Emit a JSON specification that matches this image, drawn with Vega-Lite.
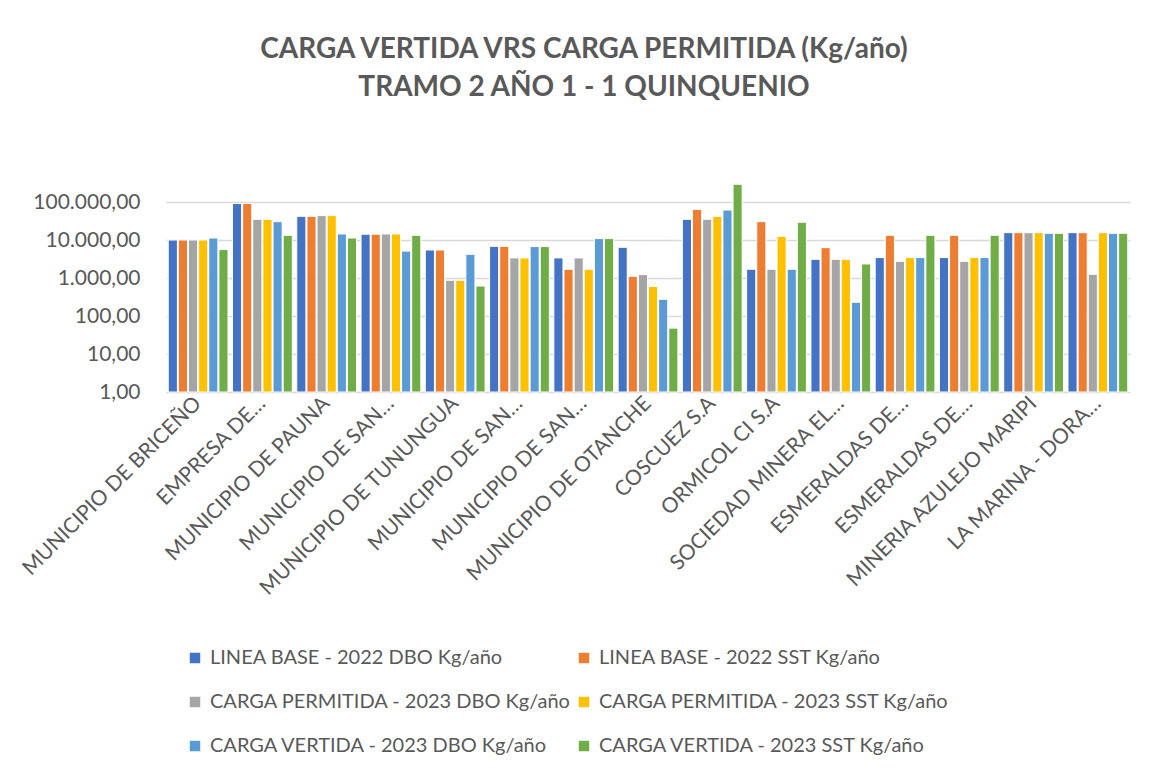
{
  "$schema": "https://vega.github.io/schema/vega-lite/v6.json",
  "autosize": "none",
  "width": 964,
  "height": 209,
  "padding": {"left": 166, "top": 183, "right": 24, "bottom": 384},
  "background": "white",
  "config": {
    "font": "Lato",
    "view": {"stroke": null}
  },
  "title": {
    "text": ["CARGA VERTIDA VRS CARGA PERMITIDA (Kg/año)", "TRAMO 2 AÑO 1 - 1 QUINQUENIO"],
    "anchor": "middle",
    "dx": -64,
    "offset": 81,
    "fontSize": 28,
    "fontWeight": "bold",
    "color": "#595959",
    "lineHeight": 38,
    "font": "Lato"
  },
  "data": {
    "values": [
      {"c": "MUNICIPIO DE BRICEÑO", "LINEA BASE - 2022 DBO Kg/año": 10000, "LINEA BASE - 2022 SST Kg/año": 10000, "CARGA PERMITIDA - 2023 DBO Kg/año": 10000, "CARGA PERMITIDA - 2023 SST Kg/año": 10000, "CARGA VERTIDA - 2023 DBO Kg/año": 11300, "CARGA VERTIDA - 2023 SST Kg/año": 5600},
      {"c": "EMPRESA DE…", "LINEA BASE - 2022 DBO Kg/año": 91000, "LINEA BASE - 2022 SST Kg/año": 91000, "CARGA PERMITIDA - 2023 DBO Kg/año": 35000, "CARGA PERMITIDA - 2023 SST Kg/año": 35000, "CARGA VERTIDA - 2023 DBO Kg/año": 30400, "CARGA VERTIDA - 2023 SST Kg/año": 13300},
      {"c": "MUNICIPIO DE PAUNA", "LINEA BASE - 2022 DBO Kg/año": 42000, "LINEA BASE - 2022 SST Kg/año": 42000, "CARGA PERMITIDA - 2023 DBO Kg/año": 43800, "CARGA PERMITIDA - 2023 SST Kg/año": 43800, "CARGA VERTIDA - 2023 DBO Kg/año": 14400, "CARGA VERTIDA - 2023 SST Kg/año": 11300},
      {"c": "MUNICIPIO DE SAN…", "LINEA BASE - 2022 DBO Kg/año": 14200, "LINEA BASE - 2022 SST Kg/año": 14200, "CARGA PERMITIDA - 2023 DBO Kg/año": 14400, "CARGA PERMITIDA - 2023 SST Kg/año": 14400, "CARGA VERTIDA - 2023 DBO Kg/año": 5100, "CARGA VERTIDA - 2023 SST Kg/año": 13300},
      {"c": "MUNICIPIO DE TUNUNGUA", "LINEA BASE - 2022 DBO Kg/año": 5460, "LINEA BASE - 2022 SST Kg/año": 5460, "CARGA PERMITIDA - 2023 DBO Kg/año": 870, "CARGA PERMITIDA - 2023 SST Kg/año": 870, "CARGA VERTIDA - 2023 DBO Kg/año": 4200, "CARGA VERTIDA - 2023 SST Kg/año": 615},
      {"c": "MUNICIPIO DE SAN…\u200b", "LINEA BASE - 2022 DBO Kg/año": 6800, "LINEA BASE - 2022 SST Kg/año": 6800, "CARGA PERMITIDA - 2023 DBO Kg/año": 3380, "CARGA PERMITIDA - 2023 SST Kg/año": 3380, "CARGA VERTIDA - 2023 DBO Kg/año": 6700, "CARGA VERTIDA - 2023 SST Kg/año": 6700},
      {"c": "MUNICIPIO DE SAN…\u200b\u200b", "LINEA BASE - 2022 DBO Kg/año": 3380, "LINEA BASE - 2022 SST Kg/año": 1700, "CARGA PERMITIDA - 2023 DBO Kg/año": 3380, "CARGA PERMITIDA - 2023 SST Kg/año": 1700, "CARGA VERTIDA - 2023 DBO Kg/año": 10900, "CARGA VERTIDA - 2023 SST Kg/año": 10900},
      {"c": "MUNICIPIO DE OTANCHE", "LINEA BASE - 2022 DBO Kg/año": 6430, "LINEA BASE - 2022 SST Kg/año": 1110, "CARGA PERMITIDA - 2023 DBO Kg/año": 1230, "CARGA PERMITIDA - 2023 SST Kg/año": 600, "CARGA VERTIDA - 2023 DBO Kg/año": 275, "CARGA VERTIDA - 2023 SST Kg/año": 48},
      {"c": "COSCUEZ S.A", "LINEA BASE - 2022 DBO Kg/año": 35000, "LINEA BASE - 2022 SST Kg/año": 64000, "CARGA PERMITIDA - 2023 DBO Kg/año": 35000, "CARGA PERMITIDA - 2023 SST Kg/año": 42000, "CARGA VERTIDA - 2023 DBO Kg/año": 61500, "CARGA VERTIDA - 2023 SST Kg/año": 293000},
      {"c": "ORMICOL CI S.A", "LINEA BASE - 2022 DBO Kg/año": 1700, "LINEA BASE - 2022 SST Kg/año": 30400, "CARGA PERMITIDA - 2023 DBO Kg/año": 1700, "CARGA PERMITIDA - 2023 SST Kg/año": 12500, "CARGA VERTIDA - 2023 DBO Kg/año": 1700, "CARGA VERTIDA - 2023 SST Kg/año": 29300},
      {"c": "SOCIEDAD MINERA EL…", "LINEA BASE - 2022 DBO Kg/año": 3100, "LINEA BASE - 2022 SST Kg/año": 6300, "CARGA PERMITIDA - 2023 DBO Kg/año": 3100, "CARGA PERMITIDA - 2023 SST Kg/año": 3100, "CARGA VERTIDA - 2023 DBO Kg/año": 230, "CARGA VERTIDA - 2023 SST Kg/año": 2340},
      {"c": "ESMERALDAS DE…", "LINEA BASE - 2022 DBO Kg/año": 3450, "LINEA BASE - 2022 SST Kg/año": 13300, "CARGA PERMITIDA - 2023 DBO Kg/año": 2750, "CARGA PERMITIDA - 2023 SST Kg/año": 3450, "CARGA VERTIDA - 2023 DBO Kg/año": 3450, "CARGA VERTIDA - 2023 SST Kg/año": 13300},
      {"c": "ESMERALDAS DE…\u200b", "LINEA BASE - 2022 DBO Kg/año": 3450, "LINEA BASE - 2022 SST Kg/año": 13300, "CARGA PERMITIDA - 2023 DBO Kg/año": 2750, "CARGA PERMITIDA - 2023 SST Kg/año": 3450, "CARGA VERTIDA - 2023 DBO Kg/año": 3450, "CARGA VERTIDA - 2023 SST Kg/año": 13300},
      {"c": "MINERIA AZULEJO MARIPI", "LINEA BASE - 2022 DBO Kg/año": 15600, "LINEA BASE - 2022 SST Kg/año": 15600, "CARGA PERMITIDA - 2023 DBO Kg/año": 15600, "CARGA PERMITIDA - 2023 SST Kg/año": 15600, "CARGA VERTIDA - 2023 DBO Kg/año": 15000, "CARGA VERTIDA - 2023 SST Kg/año": 15000},
      {"c": "LA MARINA - DORA…", "LINEA BASE - 2022 DBO Kg/año": 15600, "LINEA BASE - 2022 SST Kg/año": 15600, "CARGA PERMITIDA - 2023 DBO Kg/año": 1250, "CARGA PERMITIDA - 2023 SST Kg/año": 15600, "CARGA VERTIDA - 2023 DBO Kg/año": 15000, "CARGA VERTIDA - 2023 SST Kg/año": 15000}
    ]
  },
  "transform": [
    {"fold": ["LINEA BASE - 2022 DBO Kg/año", "LINEA BASE - 2022 SST Kg/año", "CARGA PERMITIDA - 2023 DBO Kg/año", "CARGA PERMITIDA - 2023 SST Kg/año", "CARGA VERTIDA - 2023 DBO Kg/año", "CARGA VERTIDA - 2023 SST Kg/año"], "as": ["serie", "valor"]}
  ],
  "mark": {"type": "bar", "stroke": "white", "strokeWidth": 1},
  "encoding": {
    "x": {
      "field": "c",
      "type": "nominal",
      "sort": null,
      "scale": {"paddingInner": 0.07, "paddingOuter": 0.035},
      "axis": {
        "title": null,
        "labelAngle": -45,
        "labelAlign": "right",
        "labelBaseline": "middle",
        "labelFontSize": 21,
        "labelColor": "#595959",
        "labelPadding": 8,
        "labelLimit": 400,
        "ticks": false,
        "domain": false,
        "grid": false
      }
    },
    "xOffset": {
      "field": "serie",
      "type": "nominal",
      "sort": ["LINEA BASE - 2022 DBO Kg/año", "LINEA BASE - 2022 SST Kg/año", "CARGA PERMITIDA - 2023 DBO Kg/año", "CARGA PERMITIDA - 2023 SST Kg/año", "CARGA VERTIDA - 2023 DBO Kg/año", "CARGA VERTIDA - 2023 SST Kg/año"],
      "scale": {"paddingInner": 0.1}
    },
    "y": {
      "field": "valor",
      "type": "quantitative",
      "stack": null,
      "scale": {"type": "log", "domain": [1, 316228], "nice": false},
      "axis": {
        "title": null,
        "values": [1, 10, 100, 1000, 10000, 100000],
        "labelExpr": "datum.value >= 99999 ? '100.000,00' : datum.value >= 9999 ? '10.000,00' : datum.value >= 999 ? '1.000,00' : datum.value >= 99 ? '100,00' : datum.value >= 9 ? '10,00' : '1,00'",
        "labelFontSize": 21,
        "labelColor": "#595959",
        "labelPadding": 26,
        "ticks": false,
        "domain": false,
        "gridColor": "#d9d9d9",
        "gridWidth": 1.5
      }
    },
    "color": {
      "field": "serie",
      "type": "nominal",
      "scale": {
        "domain": ["LINEA BASE - 2022 DBO Kg/año", "LINEA BASE - 2022 SST Kg/año", "CARGA PERMITIDA - 2023 DBO Kg/año", "CARGA PERMITIDA - 2023 SST Kg/año", "CARGA VERTIDA - 2023 DBO Kg/año", "CARGA VERTIDA - 2023 SST Kg/año"],
        "range": ["#4472C4", "#ED7D31", "#A5A5A5", "#FFC000", "#5B9BD5", "#70AD47"]
      },
      "legend": {
        "title": null,
        "orient": "none",
        "legendX": 19,
        "legendY": 465,
        "columns": 2,
        "columnPadding": 2,
        "rowPadding": 24,
        "values": ["LINEA BASE - 2022 DBO Kg/año", "CARGA PERMITIDA - 2023 DBO Kg/año", "CARGA VERTIDA - 2023 DBO Kg/año", "LINEA BASE - 2022 SST Kg/año", "CARGA PERMITIDA - 2023 SST Kg/año", "CARGA VERTIDA - 2023 SST Kg/año"],
        "symbolType": "square",
        "symbolSize": 110,
        "symbolStrokeWidth": 0,
        "labelFontSize": 20,
        "labelColor": "#595959",
        "labelLimit": 500,
        "labelOffset": 5
      }
    }
  }
}
